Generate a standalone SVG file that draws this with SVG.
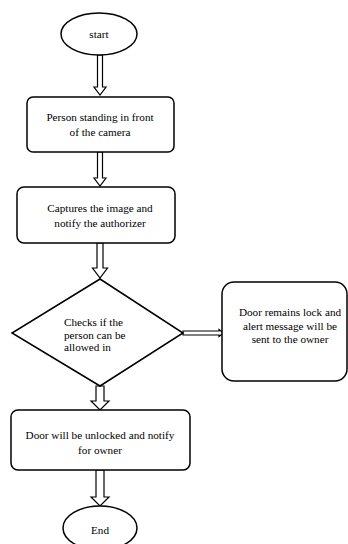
<svg xmlns="http://www.w3.org/2000/svg" width="348" height="544" viewBox="0 0 348 544">
<style>
.s{fill:#fff;stroke:#000;stroke-width:1.5}
.a{fill:#fff;stroke:#000;stroke-width:1.2;stroke-linejoin:miter}
.c{text-anchor:middle}
</style>
<rect width="348" height="544" fill="#fff"/>
<g id="connectors">
<polygon class="a" points="97.5,55 102.5,55 102.5,87 106,87 100,95 94,87 97.5,87"/>
<polygon class="a" points="97.5,152 102.5,152 102.5,178 106,178 100,186 94,178 97.5,178"/>
<polygon class="a" points="97,243 103,243 103,268 107.5,268 100,278 92.5,268 97,268"/>
<polygon class="a" points="183,331 219,331 219,329.5 223.5,333 219,336.5 219,335 183,335"/>
<polygon class="a" points="96,386 104,386 104,401 109,401 100,410 91,401 96,401"/>
<polygon class="a" points="96,470 104,470 104,497 109,497 100,506 91,497 96,497"/>
</g>
<g font-family="Liberation Serif, Times New Roman, serif" font-size="11.2">
<g id="start">
<ellipse class="s" cx="99" cy="34" rx="38" ry="21"/>
<text class="c" x="99" y="38">start</text>
</g>
<g id="person">
<rect class="s" x="27" y="97" width="147" height="55" rx="6"/>
<text class="c" x="100" y="121">Person standing in front</text>
<text class="c" x="100" y="136">of the camera</text>
</g>
<g id="capture">
<rect class="s" x="17" y="187" width="158" height="56" rx="7"/>
<text class="c" x="100" y="212">Captures the image and</text>
<text class="c" x="100" y="227">notify the authorizer</text>
</g>
<g id="check">
<polygon class="s" points="100,279 183,333 100,386 12,333"/>
<text x="64" y="326">Checks if the</text>
<text x="64" y="339">person can be</text>
<text x="64" y="351">allowed in</text>
</g>
<g id="locked">
<rect class="s" x="222" y="282" width="125" height="99" rx="12"/>
<text class="c" x="290" y="316">Door remains lock and</text>
<text class="c" x="290" y="330">alert message will be</text>
<text class="c" x="290" y="343">sent to the owner</text>
</g>
<g id="unlock">
<rect class="s" x="11" y="410" width="179" height="60" rx="7"/>
<text class="c" x="100" y="439">Door will be unlocked and notify</text>
<text class="c" x="100" y="454">for owner</text>
</g>
<g id="end">
<ellipse class="s" cx="100" cy="528" rx="37" ry="22"/>
<text class="c" x="100" y="534">End</text>
</g>
</g>
</svg>
